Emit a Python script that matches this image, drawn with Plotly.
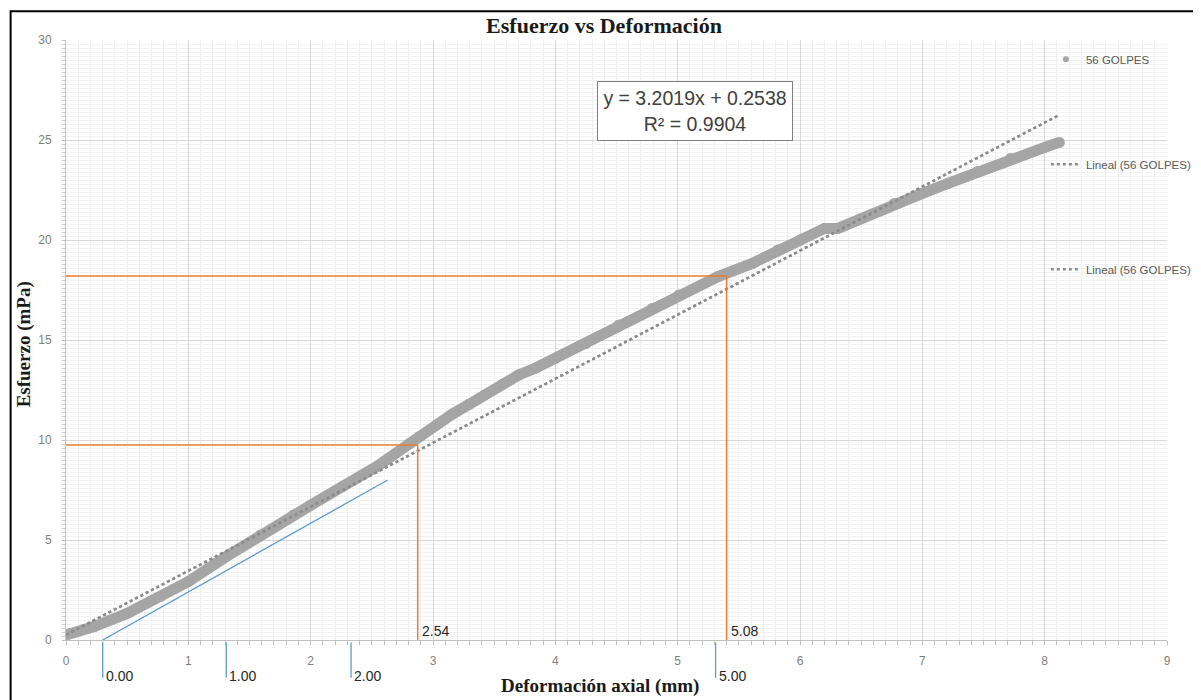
import plotly.graph_objects as go

# ---------------- data ----------------
deformacion = [0.00, 0.23, 0.50, 0.77, 1.00, 1.31, 1.59, 1.86, 1.99, 2.26,
               2.54, 2.81, 2.89, 3.03, 3.16, 3.30, 3.43, 3.57, 3.70, 3.84,
               4.00, 4.25, 4.52, 4.79, 5.01, 5.33, 5.61, 5.82, 6.00, 6.20,
               6.31, 6.50, 6.77, 7.00, 7.21, 7.45, 7.72, 8.00, 8.12]
esfuerzo = [0.25, 0.67, 1.33, 2.17, 2.92, 4.17, 5.25, 6.25, 6.70, 7.67,
            8.67, 9.83, 10.18, 10.75, 11.30, 11.80, 12.28, 12.80, 13.25, 13.60,
            14.08, 14.83, 15.75, 16.58, 17.25, 18.17, 18.83, 19.50, 20.00, 20.58,
            20.58, 21.08, 21.83, 22.33, 22.83, 23.42, 24.08, 24.63, 24.88]

serie_nombre = "56 GOLPES"
trend_nombre = "Lineal (56 GOLPES)"
trend_slope = 3.2019
trend_intercept = 0.2538
trend_r2 = 0.9904

# orange guide lines (x, y) and their labels
guia_x = [2.875, 5.40]
guia_y = [9.75, 18.20]
guia_labels = ["2.54", "5.08"]

# blue tangent line
tangente_x = [0.30, 2.63]
tangente_y = [0.00, 8.00]

# blue marks below the x axis and their labels
marca_x = [0.30, 1.31, 2.33, 5.31]
marca_labels = ["0.00", "1.00", "2.00", "5.00"]

x_ticks = list(range(0, 10))
y_ticks = list(range(0, 31, 5))

# ---------------- figure ----------------
GRAY = "#a5a5a5"
ORANGE = "#ed7d31"
BLUE = "#5b9bd5"

fig = go.Figure()

# thick band of the measured points (no legend)
fig.add_trace(go.Scatter(
    x=deformacion, y=esfuerzo, mode="lines+markers",
    line=dict(color=GRAY, width=11), marker=dict(color=GRAY, size=11),
    showlegend=False, hoverinfo="skip", legendgroup="g0"))
# measured points (legend entry)
fig.add_trace(go.Scatter(
    x=deformacion, y=esfuerzo, mode="markers", name=serie_nombre,
    marker=dict(color=GRAY, size=6), legendgroup="g1"))

# linear trendlines (two identical ones as in the reference legend)
tx = [min(deformacion), max(deformacion)]
ty = [trend_slope * v + trend_intercept for v in tx]
for g in ("g2", "g3"):
    fig.add_trace(go.Scatter(
        x=tx, y=ty, mode="lines", name=trend_nombre,
        line=dict(color="#8c8c8c", width=2.4, dash="dot"), legendgroup=g))

shapes = []
# orange guide lines
for gx, gy in zip(guia_x, guia_y):
    shapes.append(dict(type="line", xref="x", yref="y", x0=0, y0=gy, x1=gx, y1=gy,
                       line=dict(color=ORANGE, width=1.5)))
    shapes.append(dict(type="line", xref="x", yref="y", x0=gx, y0=0, x1=gx, y1=gy,
                       line=dict(color=ORANGE, width=1.5)))
# blue tangent line
shapes.append(dict(type="line", xref="x", yref="y",
                   x0=tangente_x[0], y0=tangente_y[0], x1=tangente_x[1], y1=tangente_y[1],
                   line=dict(color=BLUE, width=1.3)))
# blue marks below the axis
for mx in marca_x:
    shapes.append(dict(type="line", xref="x", yref="paper", x0=mx, x1=mx,
                       y0=-0.004, y1=-0.063, line=dict(color=BLUE, width=1.3)))
# outer chart border
shapes.append(dict(type="rect", xref="paper", yref="paper",
                   x0=-0.0503, x1=1.04, y0=-0.12, y1=1.048,
                   line=dict(color="black", width=2), layer="above"))

annotations = []
for gx, lab in zip(guia_x, guia_labels):
    annotations.append(dict(x=gx, y=0, xref="x", yref="y", text=lab, showarrow=False,
                            xanchor="left", yanchor="bottom", xshift=2, yshift=-1,
                            font=dict(family="Liberation Sans", size=14, color="#262626")))
for mx, lab in zip(marca_x, marca_labels):
    annotations.append(dict(x=mx, y=-0.06, xref="x", yref="paper", text=lab,
                            showarrow=False, xanchor="left", yanchor="middle", xshift=1,
                            font=dict(family="Liberation Sans", size=14, color="#262626")))
# equation box
annotations.append(dict(
    x=0.5715, y=0.8825, xref="paper", yref="paper", showarrow=False,
    xanchor="center", yanchor="middle",
    text=f"y = {trend_slope}x + {trend_intercept}<br>R² = {trend_r2}",
    font=dict(family="Liberation Sans", size=19.5, color="#404040"),
    align="center", bgcolor="white", bordercolor="#7f7f7f", borderwidth=1,
    borderpad=2, width=190, height=54))
# axis titles
annotations.append(dict(
    x=0.485, y=-0.077, xref="paper", yref="paper", showarrow=False,
    text="<b>Deformación axial (mm)</b>", xanchor="center", yanchor="middle",
    font=dict(family="Liberation Serif", size=19, color="#1a1a1a")))
annotations.append(dict(
    x=-0.038, y=0.493, xref="paper", yref="paper", showarrow=False,
    text="<b>Esfuerzo (mPa)</b>", textangle=-90, xanchor="center", yanchor="middle",
    font=dict(family="Liberation Serif", size=19, color="#1a1a1a")))

tickfont = dict(family="Liberation Sans", size=12, color="#808080")

# the page shows the figure with an 8 px body offset; margins account for it
fig.update_layout(
    width=1201, height=700,
    margin=dict(l=58, r=38, t=32, b=68),
    paper_bgcolor="white", plot_bgcolor="white",
    title=dict(text="<b>Esfuerzo vs Deformación</b>", x=596 / 1201, xref="container",
               y=1 - 17 / 700, yref="container", xanchor="center", yanchor="middle",
               font=dict(family="Liberation Serif", size=22, color="#1a1a1a")),
    showlegend=True,
    legend=dict(x=0.890, y=0.992, xanchor="left", yanchor="top",
                tracegroupgap=86, traceorder="grouped",
                bgcolor="rgba(0,0,0,0)",
                font=dict(family="Liberation Sans", size=11.5, color="#595959")),
    shapes=shapes, annotations=annotations,
)

fig.update_xaxes(
    range=[0, 9], tickvals=x_ticks, ticktext=[str(v) for v in x_ticks],
    showgrid=True, gridcolor="#d9d9d9", gridwidth=1,
    showline=True, linecolor="#bfbfbf", linewidth=1,
    ticks="outside", ticklen=4, tickcolor="#bfbfbf",
    ticklabelstandoff=6, tickfont=tickfont, zeroline=False,
    minor=dict(dtick=0.1, showgrid=True, gridcolor="#efefef",
               ticks="outside", ticklen=4, tickcolor="#bfbfbf"))
fig.update_yaxes(
    range=[0, 30], tickvals=y_ticks, ticktext=[str(v) for v in y_ticks],
    showgrid=True, gridcolor="#d9d9d9", gridwidth=1,
    showline=True, linecolor="#bfbfbf", linewidth=1,
    ticks="outside", ticklen=3, tickcolor="#bfbfbf",
    ticklabelstandoff=8, tickfont=tickfont, zeroline=False,
    minor=dict(dtick=0.2, showgrid=True, gridcolor="#f2f2f2",
               ticks="outside", ticklen=3, tickcolor="#d0d0d0"))

fig.write_html("out.html")
